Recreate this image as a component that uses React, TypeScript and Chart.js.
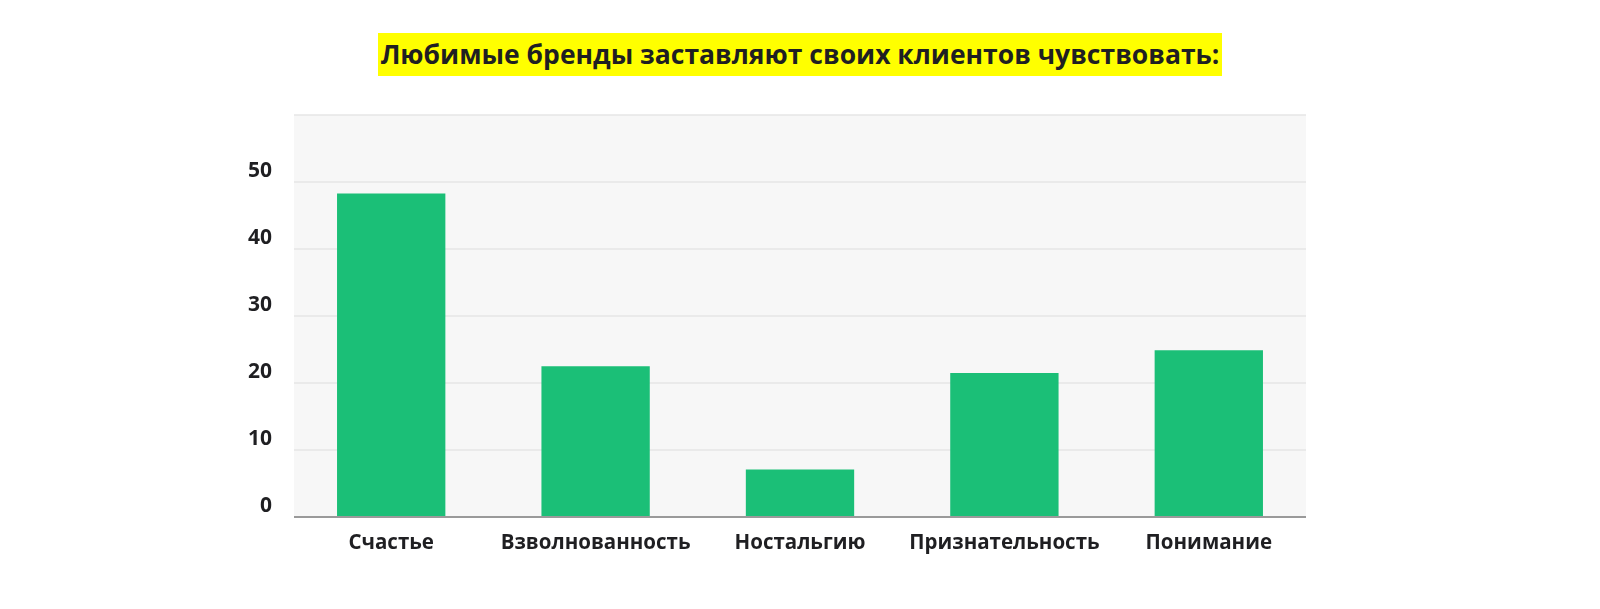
import React, { useEffect, useRef } from 'react';
import { Chart, ChartConfiguration, Plugin, registerables } from 'chart.js';

Chart.register(...registerables);

const title = 'Любимые бренды заставляют своих клиентов чувствовать:';
const categories = ['Счастье', 'Взволнованность', 'Ностальгию', 'Признательность', 'Понимание'];
const values = [48.3, 22.5, 7.1, 21.5, 24.9];
const yTicks = [0, 10, 20, 30, 40, 50];
const yMax = 60;

const FONT = '"Open Sans", "Noto Sans", sans-serif';
const TEXT = '#1f1f22';
const INSET = 5; // gray panel is a bit narrower than the bar area

// gray panel + horizontal grid lines, drawn behind the bars
const plotBackground: Plugin<'bar'> = {
  id: 'plotBackground',
  beforeDatasetsDraw(chart) {
    const { ctx, chartArea, scales } = chart;
    const left = chartArea.left + INSET;
    const right = chartArea.right - INSET;
    ctx.save();
    ctx.fillStyle = '#f7f7f7';
    ctx.fillRect(left, chartArea.top, right - left, chartArea.bottom - chartArea.top);
    ctx.strokeStyle = '#e6e6e6';
    ctx.lineWidth = 1.5;
    [...yTicks, yMax].forEach((v) => {
      if (v === 0) return;
      const y = scales.y.getPixelForValue(v);
      ctx.beginPath();
      ctx.moveTo(left, y);
      ctx.lineTo(right, y);
      ctx.stroke();
    });
    ctx.restore();
  },
  afterDatasetsDraw(chart) {
    const { ctx, chartArea, scales } = chart;
    const y = scales.y.getPixelForValue(0);
    ctx.save();
    ctx.strokeStyle = '#9a9a9a';
    ctx.lineWidth = 2;
    ctx.beginPath();
    ctx.moveTo(chartArea.left + INSET, y);
    ctx.lineTo(chartArea.right - INSET, y);
    ctx.stroke();
    ctx.restore();
  },
};

const App: React.FC = () => {
  const canvasRef = useRef<HTMLCanvasElement | null>(null);
  const chartRef = useRef<Chart<'bar'> | null>(null);

  useEffect(() => {
    if (!canvasRef.current) return;
    const config: ChartConfiguration<'bar'> = {
      type: 'bar',
      data: {
        labels: categories,
        datasets: [
          {
            data: values,
            backgroundColor: '#1bbf77',
            borderWidth: 0,
            barPercentage: 0.53,
            categoryPercentage: 1,
          },
        ],
      },
      options: {
        animation: false,
        responsive: false,
        maintainAspectRatio: false,
        layout: { padding: { left: 189, right: 289, top: 115, bottom: 32 } },
        plugins: {
          legend: { display: false },
          tooltip: { enabled: false },
          title: { display: false },
        },
        scales: {
          x: {
            grid: { display: false, drawTicks: false },
            border: { display: false },
            ticks: {
              color: TEXT,
              font: { family: FONT, size: 20.5, weight: 'bold' },
              padding: 14,
              maxRotation: 0,
              autoSkip: false,
            },
            afterFit: (scale) => {
              scale.height = 60;
            },
          },
          y: {
            min: 0,
            max: yMax,
            afterBuildTicks: (scale) => {
              scale.ticks = [...yTicks, yMax].map((v) => ({ value: v }));
            },
            grid: { display: false, drawTicks: false },
            border: { display: false },
            ticks: {
              color: TEXT,
              font: { family: FONT, size: 21, weight: 'bold' },
              padding: 17,
              labelOffset: -11,
              callback: (v) => (yTicks.includes(Number(v)) ? String(v) : ''),
            },
            afterFit: (scale) => {
              scale.width = 100;
            },
          },
        },
      },
      plugins: [plotBackground],
    };
    chartRef.current = new Chart(canvasRef.current, config);
    return () => {
      chartRef.current?.destroy();
      chartRef.current = null;
    };
  }, []);

  return (
    <div style={{ position: 'absolute', left: 0, top: 0, width: 1600, height: 609, background: '#fff' }}>
      <canvas ref={canvasRef} width={1600} height={609} style={{ position: 'absolute', left: 0, top: 0, width: 1600, height: 609 }} />
      <div
        style={{
          position: 'absolute',
          left: 0,
          top: 33,
          width: 1600,
          textAlign: 'center',
          fontFamily: FONT,
        }}
      >
        <span
          style={{
            display: 'inline-block',
            background: '#ffff00',
            color: TEXT,
            fontSize: 26.5,
            fontWeight: 700,
            lineHeight: '43px',
            padding: '0 3px',
          }}
        >
          {title}
        </span>
      </div>
    </div>
  );
};

export default App;
